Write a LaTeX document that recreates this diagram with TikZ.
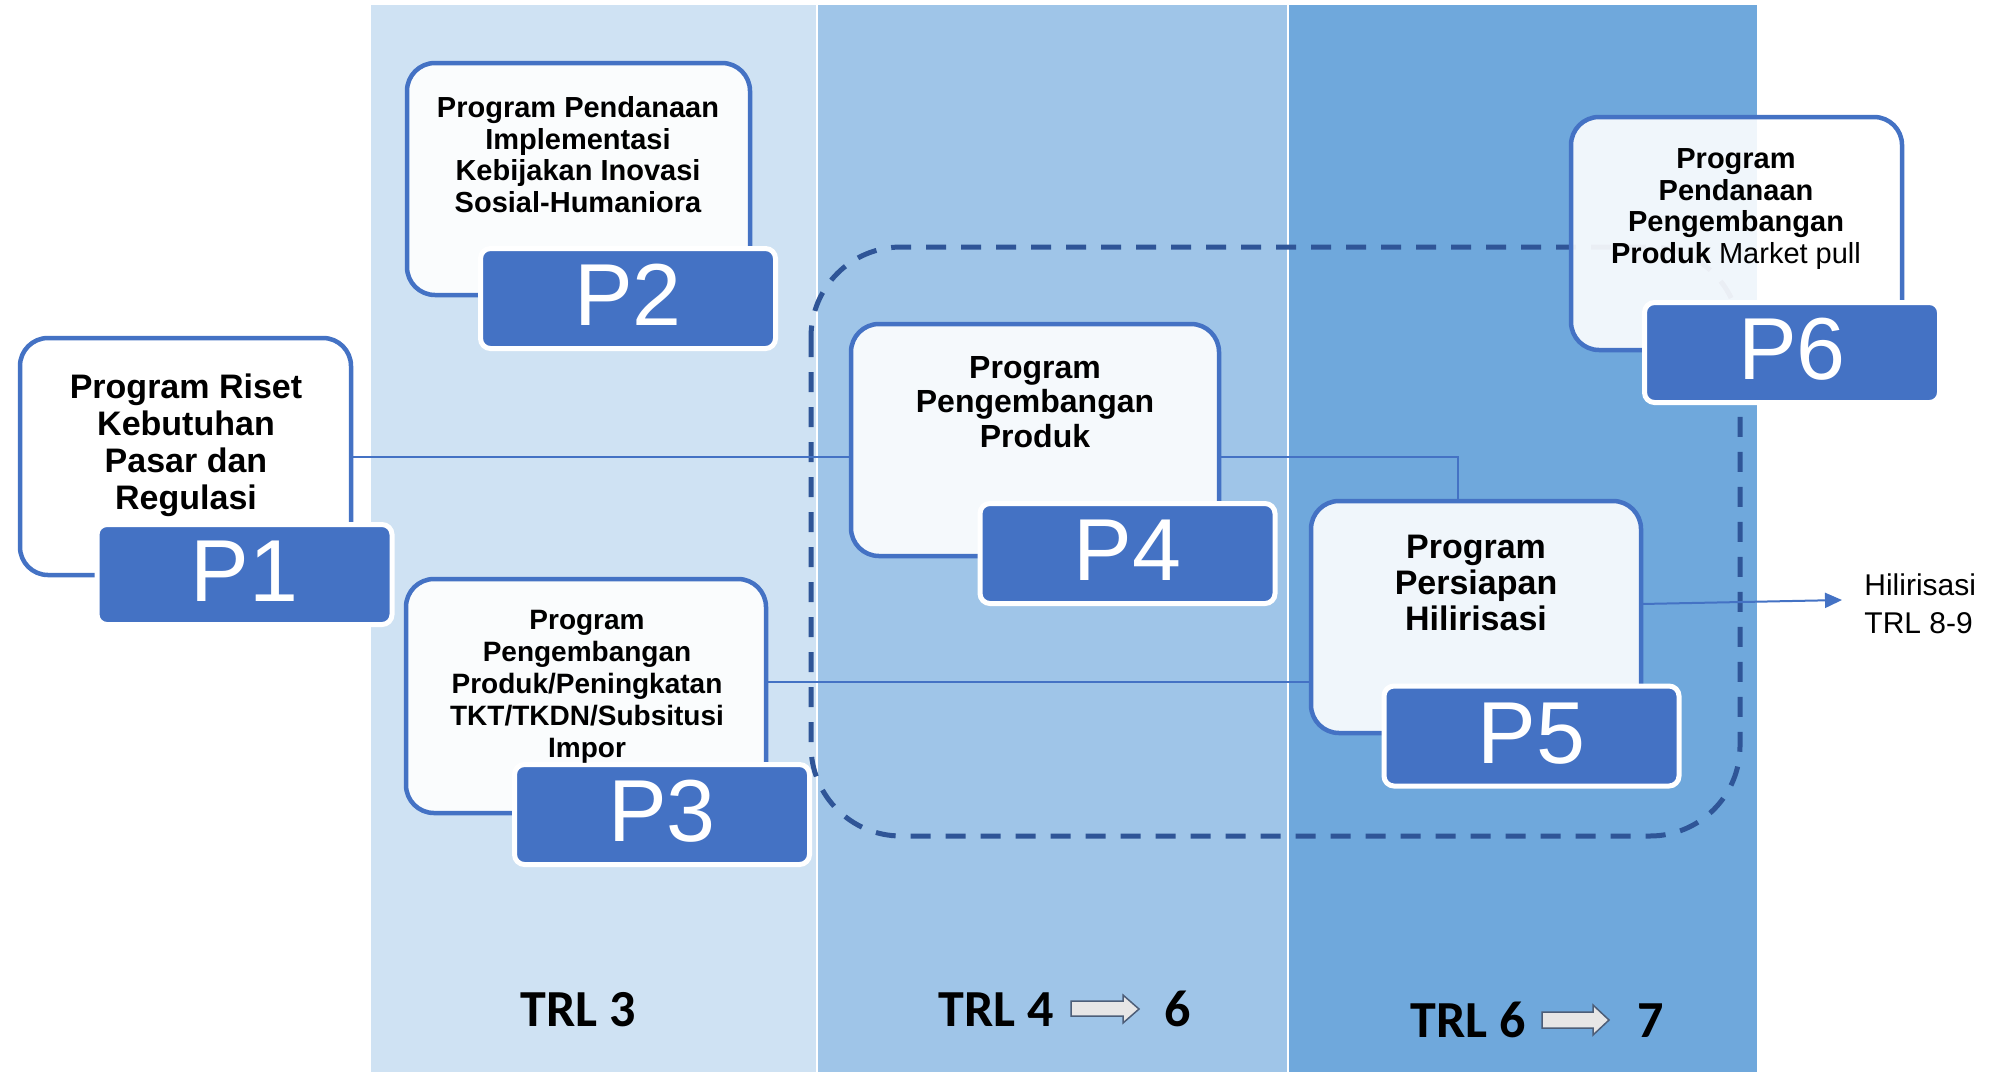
\documentclass[tikz,border=0pt]{standalone}
\usepackage{fontspec}
\setmainfont{Liberation Sans}
\newfontfamily\trlfont{Carlito}
\usetikzlibrary{arrows.meta}
\definecolor{colA}{HTML}{CFE2F3}
\definecolor{colB}{HTML}{9FC5E8}
\definecolor{colC}{HTML}{6FA8DC}
\definecolor{boxblue}{HTML}{4472C4}
\definecolor{dashblue}{HTML}{2F5597}
\definecolor{arrfill}{HTML}{E7E6E6}
\definecolor{arrline}{HTML}{4D5E78}
\begin{document}
\begin{tikzpicture}[x=0.5pt,y=-0.5pt,
  progbox/.style={draw=boxblue, line width=2.25pt, fill=white, fill opacity=0.9,
    rounded corners=14pt, inner sep=0pt, outer sep=0pt},
  tag/.style={draw=white, line width=2.5pt, fill=boxblue, rounded corners=5pt,
    text=white, font=\fontsize{44}{44}\selectfont, inner sep=0pt, outer sep=0pt,
    text height=31.5pt, text depth=4.5pt,
    minimum width=147.5pt, minimum height=50pt},
  ptext/.style={anchor=north, align=center, inner sep=0pt},
  conn/.style={draw=boxblue, line width=1pt},
  trl/.style={anchor=base west, inner sep=0pt, font=\trlfont\bfseries\fontsize{26}{26}\selectfont},
  blockarrow/.style={fill=arrfill, draw=arrline, line width=0.75pt, line join=miter},
]
\useasboundingbox (0,0) rectangle (2006,1072);
\fill[white] (0,0) rectangle (2006,1072);
% columns
\fill[colA] (371,5) rectangle (816,1072);
\fill[colB] (818,5) rectangle (1287,1072);
\fill[colC] (1289,5) rectangle (1757,1072);
% dashed group
\draw[dashblue, line width=2.5pt, dash pattern=on 10pt off 7.5pt, rounded corners=45pt]
  (811,247) rectangle (1740,836);
% boxes
\node[progbox, minimum width=165.5pt, minimum height=118.5pt] (b1) at (185.5,456.5) {};
\node[progbox, minimum width=171.5pt, minimum height=116pt] (b2) at (578.5,179) {};
\node[progbox, minimum width=180pt, minimum height=117pt] (b3) at (586,696) {};
\node[progbox, minimum width=184pt, minimum height=116pt] (b4) at (1035,440) {};
\node[progbox, minimum width=165pt, minimum height=116pt] (b5) at (1476,617) {};
\node[progbox, minimum width=165.5pt, minimum height=116.5pt] (b6) at (1736.5,233.5) {};
% connectors
\coordinate (k) at (1458,456.5);
\coordinate (m) at (700,682);
\coordinate (hs) at (1500,604);
\coordinate (he) at (1842,600);
\draw[conn] (b1.east) -- (b1.east -| b4.west);
\draw[conn] (b4.east |- k) -- (k) -- (k |- b5.north);
\draw[conn] (b3.east |- m) -- (b5.west |- m);
\draw[conn, -{Triangle[length=8.5pt,width=7.5pt]}] (b5.east |- hs) -- (he);
% tags
\node[tag] (p1) at (244.5,574.5) {P1};
\node[tag] (p2) at (628,298.5) {P2};
\node[tag] (p3) at (662,814.5) {P3};
\node[tag] (p4) at (1127.5,553.5) {P4};
\node[tag] (p5) at (1531.5,736) {P5};
\node[tag] (p6) at (1792,352.5) {P6};
% texts
\node[ptext, font=\bfseries\fontsize{17}{18.5}\selectfont] (t1) at (186,373)
  {Program Riset\\Kebutuhan\\Pasar dan\\Regulasi};
\node[ptext, font=\bfseries\fontsize{14.5}{15.85}\selectfont] (t2) at (578,96)
  {Program Pendanaan\\Implementasi\\Kebijakan Inovasi\\Sosial-Humaniora};
\node[ptext, font=\bfseries\fontsize{14}{16}\selectfont] (t3) at (587,610)
  {Program\\Pengembangan\\Produk/Peningkatan\\TKT/TKDN/Subsitusi\\Impor};
\node[ptext, font=\bfseries\fontsize{16}{17.25}\selectfont] (t4) at (1035,356)
  {Program\\Pengembangan\\Produk};
\node[ptext, font=\bfseries\fontsize{17}{18}\selectfont] (t5) at (1476,535)
  {Program\\Persiapan\\Hilirisasi};
\node[ptext, font=\bfseries\fontsize{14.5}{15.85}\selectfont] (t6) at (1736,148)
  {Program\\Pendanaan\\Pengembangan\\Produk {\mdseries Market pull}};
\node[anchor=north west, align=left, inner sep=0pt, font=\fontsize{15}{19}\selectfont] (hil) at (1864,573)
  {Hilirisasi\\TRL 8-9};
% TRL labels
\node[trl] (trl3) at (520,1026) {TRL 3};
\node[trl] (trl4) at (938,1026) {TRL 4};
\node[trl] (trl6a) at (1164,1026) {6};
\node[trl] (trl6b) at (1410,1037) {TRL 6};
\node[trl] (trl7) at (1637,1037) {7};
\draw[blockarrow] (1071,1001) -- (1123,1001) -- (1123,995) -- (1139,1009) -- (1123,1023) -- (1123,1016) -- (1071,1016) -- cycle;
\draw[blockarrow] (1542,1012) -- (1593,1012) -- (1593,1005) -- (1609,1020) -- (1593,1035) -- (1593,1028) -- (1542,1028) -- cycle;
\end{tikzpicture}
\end{document}
